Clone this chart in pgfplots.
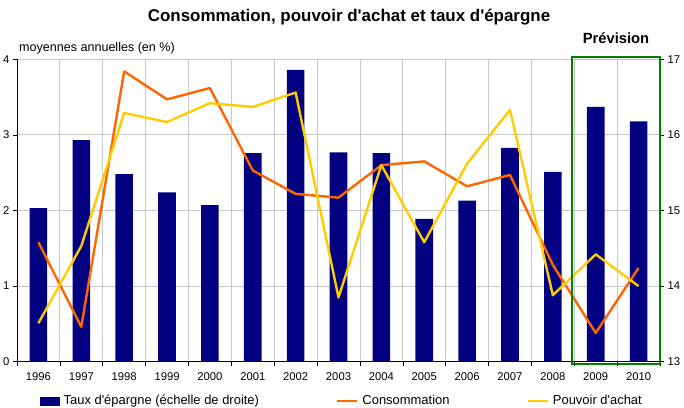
\documentclass[border=0pt]{standalone}
\usepackage{fontspec}
\setmainfont{Liberation Sans}
\usepackage{pgfplots}
\pgfplotsset{compat=1.18}
\definecolor{barblue}{RGB}{0,0,128}
\definecolor{consorange}{RGB}{255,102,0}
\definecolor{pouvyellow}{RGB}{255,204,0}
\definecolor{prevgreen}{RGB}{0,128,0}
\definecolor{gridgray}{RGB}{200,200,200}
\begin{document}
\begin{tikzpicture}[x=1bp,y=1bp]
\path[use as bounding box] (0,0) rectangle (684,407);
\pgfplotsset{
  common/.style={
    at={(17bp,45.3bp)}, anchor=south west,
    scale only axis, width=643bp, height=302.4bp,
    xmin=-0.5, xmax=14.5,
    tick align=outside, major tick length=4bp,
    axis line style={black, line width=0.6bp},
    tick style={black, line width=0.6bp},
    ticklabel style={font=\fontsize{11.3}{13}\selectfont},
    /pgf/number format/assume math mode=true,
  }
}
\begin{axis}[common,
  ymin=13, ymax=17,
  axis y line*=right, axis x line*=bottom,
  xtick={-0.5,0.5,...,14.5},
  x tick label as interval,
  xticklabels={1996,1997,1998,1999,2000,2001,2002,2003,2004,2005,2006,2007,2008,2009,2010},
  xticklabel style={yshift=-3bp},
  ytick={13,14,15,16,17},
  grid=major, major grid style={gridgray, line width=0.8bp},
  ybar, bar width=0.41,
]
\addplot[fill=barblue, draw=none] coordinates {
(0,15.03) (1,15.93) (2,15.48) (3,15.24) (4,15.07) (5,15.76) (6,16.86) (7,15.77)
(8,15.76) (9,14.89) (10,15.13) (11,15.83) (12,15.51) (13,16.37) (14,16.18)};
\end{axis}
\begin{axis}[common,
  ymin=0, ymax=4,
  axis x line=none, axis y line*=left,
  ytick={0,1,2,3,4},
  clip=false,
  legend style={draw=none, fill=none, inner sep=0pt, at={(0.0358,-0.129)}, anchor=west,
    legend columns=3, font=\fontsize{13}{15}\selectfont,
    nodes={inner sep=0pt},
    /tikz/every odd column/.append style={column sep=4bp},
    /tikz/every even column/.append style={column sep=77bp}},
]
\addlegendimage{legend image code/.code={\fill[barblue] (0bp,-4bp) rectangle (19bp,4bp);}}
\addlegendentry{Taux d\textquotesingle épargne (échelle de droite)}
\addplot[consorange, line width=2.4bp, line join=round,
  legend image code/.code={\draw[consorange, line width=2.4bp] (0bp,0bp)--(20bp,0bp);}] coordinates {
(0,1.58) (1,0.46) (2,3.84) (3,3.47) (4,3.62) (5,2.53) (6,2.22) (7,2.17)
(8,2.60) (9,2.65) (10,2.32) (11,2.47) (12,1.28) (13,0.38) (14,1.24)};
\addlegendentry{Consommation}
\addplot[pouvyellow, line width=2.4bp, line join=round,
  legend image code/.code={\draw[pouvyellow, line width=2.4bp] (0bp,0bp)--(20bp,0bp);}] coordinates {
(0,0.51) (1,1.53) (2,3.29) (3,3.17) (4,3.42) (5,3.37) (6,3.56) (7,0.85)
(8,2.60) (9,1.58) (10,2.62) (11,3.33) (12,0.88) (13,1.42) (14,1.00)};
\addlegendentry{Pouvoir d\textquotesingle achat}
\draw[prevgreen, line width=1.8bp] (axis cs:12.44,-0.035) rectangle (axis cs:14.5,4.035);
\end{axis}
\node[font=\bfseries\fontsize{17}{19}\selectfont] at (349,390) {Consommation, pouvoir d\textquotesingle achat et taux d\textquotesingle épargne};
\node[font=\fontsize{12.6}{14}\selectfont, anchor=west, inner sep=0pt] at (19,358.7) {moyennes annuelles (en \%)};
\node[font=\bfseries\fontsize{14.8}{16}\selectfont] at (616,369.3) {Prévision};
\end{tikzpicture}
\end{document}
